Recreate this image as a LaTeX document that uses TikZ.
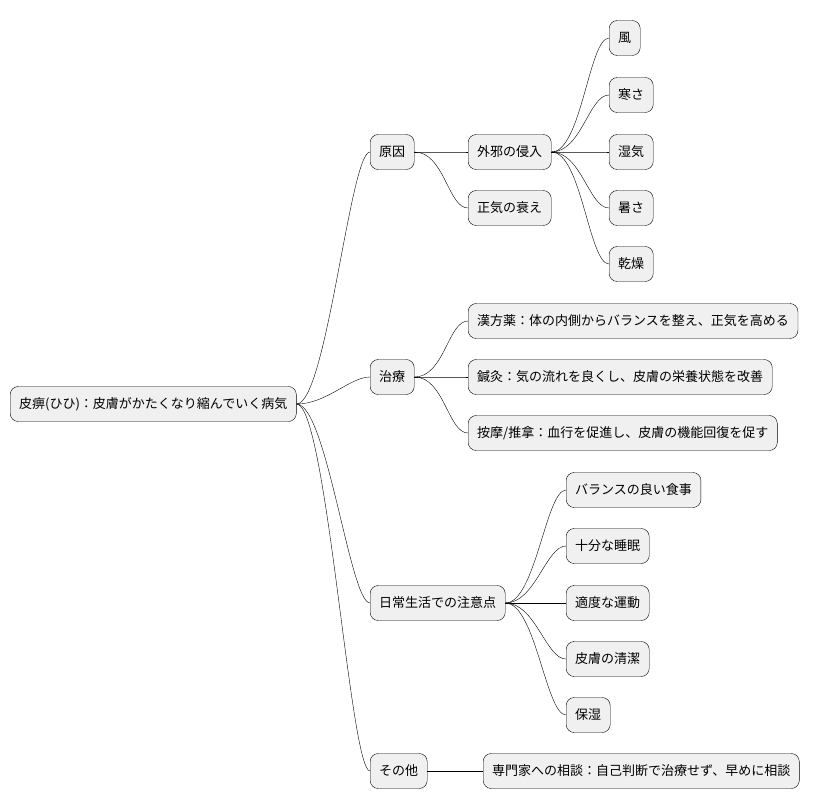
\documentclass[tikz,border=0pt]{standalone}
\usepackage{fontspec}
\setmainfont{Noto Sans CJK JP}
\usepackage{tikz}
\usetikzlibrary{positioning}
\tikzstyle{every picture}+=[remember picture]

\begin{document}
\begin{tikzpicture}[x=1pt,y=-1pt]
\useasboundingbox (0,0) rectangle (835,809);

\tikzstyle{topic} = [draw,rounded corners=8pt,fill=black!6,anchor=west,
  minimum height=35pt,inner xsep=9pt,font=\fontsize{13}{15}\selectfont]
\tikzstyle{branch} = [draw,thin]

% root and first level
\node[topic] (root) at (10,404) {皮痹(ひひ)：皮膚がかたくなり縮んでいく病気};
\node[topic] (cause) at (370,152) {原因};
\node[topic] (cure) at (370,377) {治療};
\node[topic] (daily) at (370,603) {日常生活での注意点};
\node[topic] (other) at (370,771) {その他};

% second level
\node[topic] (evil) at (468,152) {外邪の侵入};
\node[topic] (weak) at (468,208) {正気の衰え};
\node[topic] (herb) at (468,321) {漢方薬：体の内側からバランスを整え、正気を高める};
\node[topic] (acu) at (468,377) {鍼灸：気の流れを良くし、皮膚の栄養状態を改善};
\node[topic] (mass) at (468,433) {按摩/推拿：血行を促進し、皮膚の機能回復を促す};
\node[topic] (food) at (566,490) {バランスの良い食事};
\node[topic] (sleep) at (566,546) {十分な睡眠};
\node[topic] (move) at (566,603) {適度な運動};
\node[topic] (clean) at (566,659) {皮膚の清潔};
\node[topic] (moist) at (566,715) {保湿};
\node[topic] (expert) at (483,771) {専門家への相談：自己判断で治療せず、早めに相談};

% third level
\node[topic] (wind) at (609,38) {風};
\node[topic] (cold) at (609,95) {寒さ};
\node[topic] (damp) at (609,152) {湿気};
\node[topic] (heat) at (609,208) {暑さ};
\node[topic] (dry) at (609,264) {乾燥};

\foreach \a/\b in {root/cause,root/cure,root/daily,root/other,
  cause/evil,cause/weak,cure/herb,cure/acu,cure/mass,
  daily/food,daily/sleep,daily/move,daily/clean,daily/moist,other/expert,
  evil/wind,evil/cold,evil/damp,evil/heat,evil/dry}
  \draw[branch] (\a.east) .. controls ([xshift=30pt]\a.east) and ([xshift=-20pt]\b.west) .. (\b.west);

\end{tikzpicture}
\end{document}
